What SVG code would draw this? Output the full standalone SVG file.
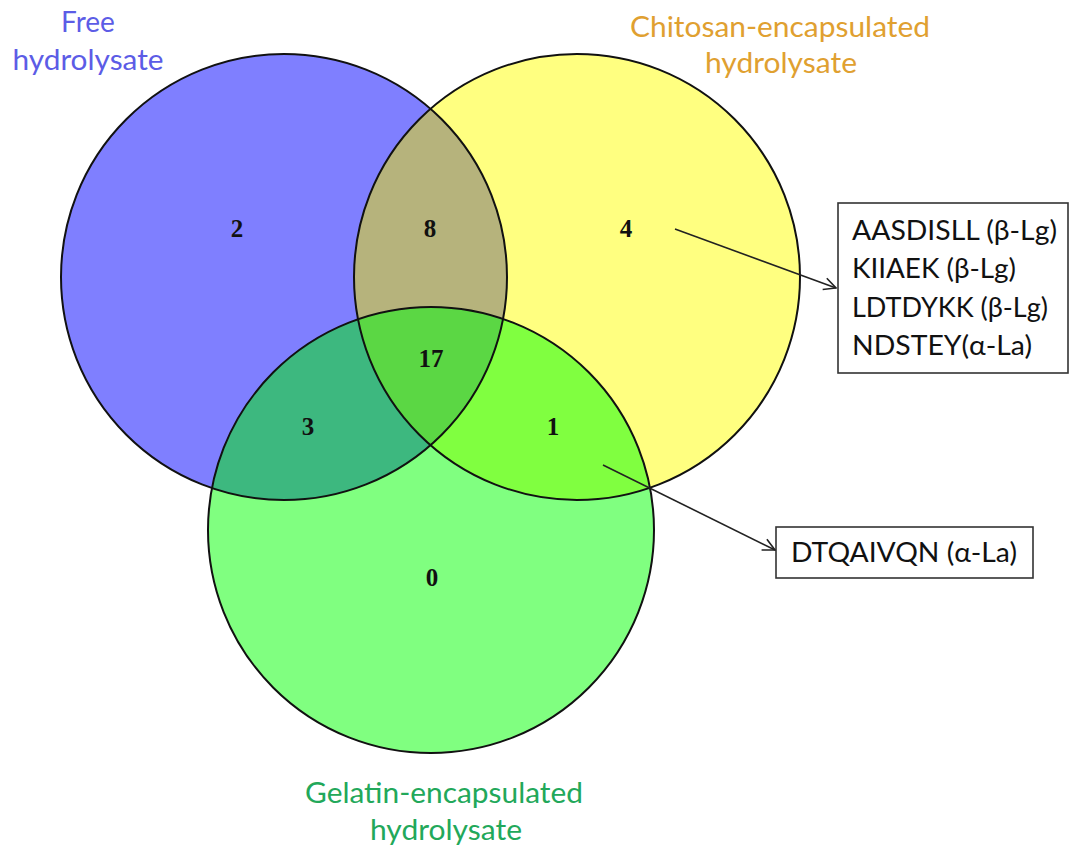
<svg xmlns="http://www.w3.org/2000/svg" width="1073" height="855" viewBox="0 0 1073 855">
<style>
.num{font-family:"Liberation Serif","Times New Roman",serif;font-weight:bold;font-size:25px;fill:#111;text-anchor:middle}
.lbl{font-family:"Lato","Open Sans","Liberation Sans",sans-serif;font-size:28px;text-anchor:middle}
.pep{font-family:"Lato","Open Sans","Liberation Sans",sans-serif;font-size:27px;fill:#111}
.ring{fill:none;stroke:#111;stroke-width:2}
.box{fill:#fff;stroke:#333;stroke-width:1.6}
.con{fill:none;stroke:#222;stroke-width:1.6}
</style>
<defs>
<clipPath id="cB"><circle cx="284" cy="277" r="223"/></clipPath>
<clipPath id="cY"><circle cx="577" cy="277" r="223"/></clipPath>
<marker id="arr" viewBox="0 0 14 14" refX="13" refY="7" markerWidth="14" markerHeight="14" markerUnits="userSpaceOnUse" orient="auto">
<path d="M1,1 L13,7 L1,13" fill="none" stroke="#222" stroke-width="1.6"/>
</marker>
</defs>
<rect width="1073" height="855" fill="#fff"/>
<g id="venn">
<circle cx="284" cy="277" r="223" fill="#7F7FFF"/>
<circle cx="577" cy="277" r="223" fill="#FFFF80"/>
<circle cx="431" cy="530" r="223" fill="#80FF80"/>
<circle cx="577" cy="277" r="223" fill="#B6B37C" clip-path="url(#cB)"/>
<circle cx="431" cy="530" r="223" fill="#3DB87F" clip-path="url(#cB)"/>
<circle cx="431" cy="530" r="223" fill="#80FF40" clip-path="url(#cY)"/>
<g clip-path="url(#cB)"><circle cx="431" cy="530" r="223" fill="#5BD744" clip-path="url(#cY)"/></g>
<circle class="ring" cx="284" cy="277" r="223"/>
<circle class="ring" cx="577" cy="277" r="223"/>
<circle class="ring" cx="431" cy="530" r="223"/>
</g>
<g id="counts">
<text class="num" x="237" y="237">2</text>
<text class="num" x="430" y="237">8</text>
<text class="num" x="626" y="237">4</text>
<text class="num" x="431" y="367">17</text>
<text class="num" x="308" y="435">3</text>
<text class="num" x="553" y="435">1</text>
<text class="num" x="432" y="586">0</text>
</g>
<g id="label-free">
<text class="lbl" fill="#5C5CE6" x="88" y="32">Free</text>
<text class="lbl" fill="#5C5CE6" x="88" y="70" textLength="151" lengthAdjust="spacingAndGlyphs">hydrolysate</text>
</g>
<g id="label-chitosan">
<text class="lbl" fill="#E0A030" x="780" y="37" textLength="300" lengthAdjust="spacingAndGlyphs">Chitosan-encapsulated</text>
<text class="lbl" fill="#E0A030" x="781" y="73" textLength="152" lengthAdjust="spacingAndGlyphs">hydrolysate</text>
</g>
<g id="label-gelatin">
<text class="lbl" fill="#22A85A" x="444" y="803" textLength="278" lengthAdjust="spacingAndGlyphs">Gelatin-encapsulated</text>
<text class="lbl" fill="#22A85A" x="446" y="840" textLength="152" lengthAdjust="spacingAndGlyphs">hydrolysate</text>
</g>
<g id="box-chitosan">
<rect class="box" x="838" y="203" width="230" height="170"/>
<text class="pep" x="852" y="240" textLength="205" lengthAdjust="spacingAndGlyphs">AASDISLL (β-Lg)</text>
<text class="pep" x="852" y="278" textLength="164" lengthAdjust="spacingAndGlyphs">KIIAEK (β-Lg)</text>
<text class="pep" x="852" y="317" textLength="196" lengthAdjust="spacingAndGlyphs">LDTDYKK (β-Lg)</text>
<text class="pep" x="852" y="355" textLength="180" lengthAdjust="spacingAndGlyphs">NDSTEY(α-La)</text>
</g>
<g id="box-overlap">
<rect class="box" x="776" y="527" width="257" height="51"/>
<text class="pep" x="791" y="562" textLength="226" lengthAdjust="spacingAndGlyphs">DTQAIVQN (α-La)</text>
</g>
<g id="connectors">
<line class="con" x1="675" y1="229" x2="836" y2="288" marker-end="url(#arr)"/>
<line class="con" x1="603" y1="465" x2="775" y2="550" marker-end="url(#arr)"/>
</g>
</svg>
